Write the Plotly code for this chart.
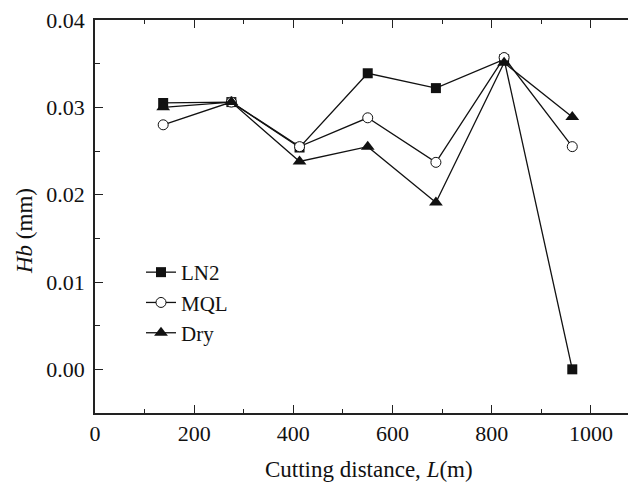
import plotly.graph_objects as go

distance = [137.5, 275, 412.5, 550, 687.5, 825, 962.5]
ln2 = [0.0305, 0.0306, 0.0254, 0.0339, 0.0322, 0.0355, 0.0000]
mql = [0.0280, 0.0306, 0.0255, 0.0288, 0.0237, 0.0357, 0.0255]
dry = [0.0300, 0.0306, 0.0238, 0.0255, 0.0191, 0.0351, 0.0289]

x_ticks = [0, 200, 400, 600, 800, 1000]
y_ticks = [0.00, 0.01, 0.02, 0.03, 0.04]

FONT = "Liberation Serif"
OFF = 8  # page body margin
W, H = 636 - OFF, 484 - OFF
L, R, T, B = 95 - OFF, 0, 20 - OFF, 71
PW, PH = W - L - R, H - T - B

fig = go.Figure()
fig.add_trace(go.Scatter(x=distance, y=ln2, name="LN2", mode="lines+markers",
                         line=dict(color="#111", width=1.3),
                         marker=dict(symbol="square", size=10, color="#111")))
fig.add_trace(go.Scatter(x=distance, y=mql, name="MQL", mode="lines+markers",
                         line=dict(color="#111", width=1.3),
                         marker=dict(symbol="circle", size=10, color="white",
                                     line=dict(color="#111", width=1))))
fig.add_trace(go.Scatter(x=distance, y=dry, name="Dry", mode="lines+markers",
                         line=dict(color="#111", width=1.3),
                         marker=dict(symbol="triangle-up", size=12, color="#111")))

def px_x(px):
    return (px - OFF - L) / PW

def px_y(py):
    return (H - B - (py - OFF)) / PH

fig.update_layout(
    width=W, height=H,
    margin=dict(l=L, r=R, t=T, b=B, autoexpand=False),
    paper_bgcolor="white", plot_bgcolor="white",
    font=dict(family=FONT, size=22, color="#111"),
    showlegend=True,
    legend=dict(x=px_x(141), y=px_y(252), xanchor="left", yanchor="top",
                bgcolor="rgba(0,0,0,0)", font=dict(family=FONT, size=21),
                tracegroupgap=0, itemwidth=30),
    annotations=[
        dict(text="Cutting distance, <i>L</i>(m)", xref="paper", yref="paper",
             x=px_x(369), y=px_y(469),
             xanchor="center", yanchor="middle", showarrow=False,
             font=dict(family=FONT, size=23)),
        dict(text="<i>Hb</i> (mm)", xref="paper", yref="paper",
             x=px_x(24), y=px_y(231),
             xanchor="center", yanchor="middle", showarrow=False, textangle=-90,
             font=dict(family=FONT, size=23)),
    ],
)

fig.update_xaxes(range=[0, 1091], tickvals=x_ticks, ticktext=[str(v) for v in x_ticks],
                 automargin=False, tickfont=dict(size=22), ticklabeloverflow="allow",
                 showline=True, linecolor="#222", linewidth=1.5, mirror="ticks",
                 ticks="inside", ticklen=8, tickwidth=1.2, tickcolor="#222",
                 minor=dict(dtick=100, ticks="inside", ticklen=4, tickcolor="#222", tickwidth=1),
                 showgrid=False, zeroline=False)
fig.update_yaxes(range=[-0.005, 0.04], tickvals=y_ticks, ticktext=[f"{v:.2f}" for v in y_ticks],
                 automargin=False, tickfont=dict(size=22), ticklabelstandoff=4,
                 ticklabeloverflow="allow",
                 showline=True, linecolor="#222", linewidth=1.5, mirror=False,
                 ticks="inside", ticklen=8, tickwidth=1.2, tickcolor="#222",
                 minor=dict(dtick=0.005, tick0=0, ticks="inside", ticklen=5, tickcolor="#222", tickwidth=1),
                 showgrid=False, zeroline=False)

fig.write_html("out.html")
